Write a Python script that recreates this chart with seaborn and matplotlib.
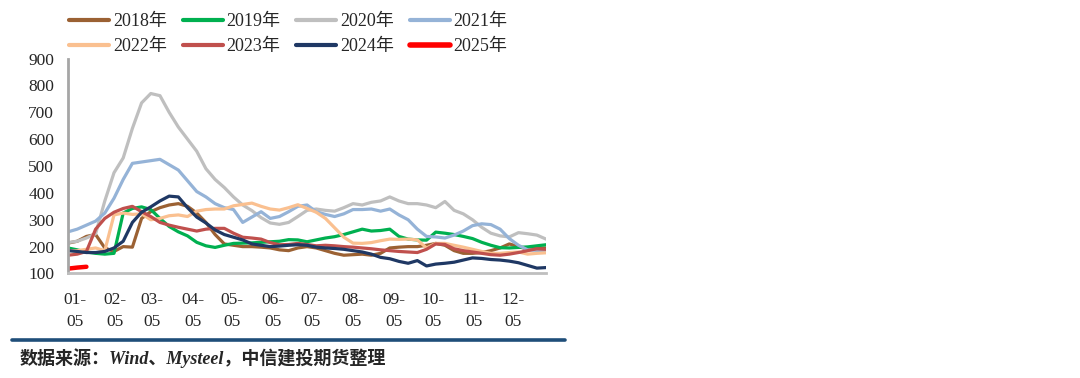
import pandas as pd
import matplotlib.pyplot as plt
from matplotlib.lines import Line2D
import seaborn as sns
import numpy as np

# 数据（周度，第0周~第52周）
weeks = list(range(53))
month_labels = ['01-\n05', '02-\n05', '03-\n05', '04-\n05', '05-\n05', '06-\n05',
                '07-\n05', '08-\n05', '09-\n05', '10-\n05', '11-\n05', '12-\n05']
years = ['2018年', '2019年', '2020年', '2021年', '2022年', '2023年', '2024年', '2025年']

y2018 = [213, 220, 238, 245, 195, 182, 200, 198, 305, 330, 345, 355, 360, 350, 325, 290,
         245, 210, 205, 200, 200, 198, 195, 188, 185, 195, 200, 195, 185, 175, 168, 170,
         172, 168, 175, 195, 198, 200, 200, 205, 212, 205, 185, 175, 175, 178, 185, 195,
         210, 200, 190, 195, 195]
y2019 = [195, 188, 180, 175, 172, 175, 325, 342, 348, 338, 305, 275, 255, 240, 216, 203,
         197, 205, 212, 213, 214, 216, 218, 220, 226, 225, 218, 225, 232, 237, 245, 255,
         265, 258, 260, 265, 238, 228, 225, 224, 254, 250, 245, 238, 230, 216, 205, 196,
         195, 197, 199, 203, 207]
y2020 = [215, 220, 232, 248, 370, 475, 530, 640, 735, 770, 762, 700, 645, 600, 555, 490,
         450, 420, 385, 355, 334, 308, 288, 283, 290, 312, 335, 340, 335, 332, 345, 360,
         355, 365, 370, 385, 370, 360, 360, 355, 345, 368, 335, 322, 300, 272, 250, 240,
         236, 252, 248, 243, 228]
y2021 = [255, 265, 280, 295, 325, 380, 450, 510, 515, 520, 525, 505, 485, 445, 405, 385,
         360, 345, 338, 290, 310, 330, 305, 312, 330, 350, 355, 330, 320, 312, 322, 338,
         338, 340, 332, 340, 318, 300, 265, 238, 236, 232, 243, 258, 278, 285, 282, 265,
         230, 205, 188, 186, 185]
y2022 = [185, 185, 190, 195, 185, 318, 325, 320, 322, 300, 305, 315, 318, 312, 332, 338,
         340, 340, 352, 357, 362, 350, 340, 336, 345, 356, 342, 328, 305, 270, 235, 213,
         212, 215, 222, 228, 227, 228, 225, 195, 212, 212, 205, 198, 190, 182, 175, 175,
         178, 180, 172, 175, 177]
y2023 = [168, 172, 182, 265, 305, 328, 342, 350, 330, 312, 290, 280, 272, 265, 258, 265,
         268, 268, 250, 235, 232, 228, 215, 207, 208, 212, 208, 203, 205, 203, 200, 198,
         195, 192, 188, 185, 182, 180, 178, 190, 210, 208, 192, 185, 180, 175, 170, 168,
         172, 178, 185, 192, 190]
y2024 = [185, 182, 178, 178, 182, 195, 220, 290, 328, 348, 370, 388, 385, 345, 310, 288,
         262, 245, 235, 225, 210, 205, 200, 202, 205, 207, 205, 198, 195, 193, 190, 185,
         180, 172, 160, 155, 145, 138, 148, 128, 135, 138, 142, 150, 158, 156, 152, 150,
         146, 140, 130, 120, 122]
y2025 = [118, 122, 125]

series = [y2018, y2019, y2020, y2021, y2022, y2023, y2024, y2025]
colors = ['#9B6133', '#00B050', '#BFBFBF', '#95B3D7', '#FAC090', '#C0504D', '#1F3864', '#FF0000']

sns.set_style("white")
plt.rcParams['font.family'] = ['Liberation Serif', 'Noto Sans CJK SC', 'DejaVu Sans']
plt.rcParams['font.size'] = 12

fig = plt.figure(figsize=(10.8, 3.78), dpi=100)
ax = fig.add_axes([0.063, 0.2765, 0.4426, 0.5685])

for name, vals, c in zip(years, series, colors):
    lw = 3.2 if name == '2025年' else 2.3
    sns.lineplot(x=weeks[:len(vals)], y=vals, color=c, linewidth=lw, label=name, ax=ax,
                 legend=False)

# x轴刻度：每月5日
tick_pos = [pd.Timestamp(2023, m, 5).dayofyear / 7 for m in range(1, 13)]
ax.set_xticks(tick_pos)
ax.set_xticklabels(month_labels, multialignment='center', linespacing=1.55)
ax.set_xlim(0, 52)
ax.set_ylim(100, 900)
ax.set_yticks(range(100, 1000, 100))
ax.tick_params(axis='x', length=0, pad=13, labelsize=12.5)
ax.tick_params(axis='y', length=4, width=1.5, color='#A6A6A6', direction='out', pad=6,
               labelsize=12.5)
ax.set_xlabel('')
ax.set_ylabel('')

for s in ['top', 'right']:
    ax.spines[s].set_visible(False)
ax.spines['left'].set_color('#A6A6A6')
ax.spines['left'].set_linewidth(2)
ax.spines['bottom'].set_color('#BFBFBF')
ax.spines['bottom'].set_linewidth(2)

# 图例（按行排列：matplotlib 按列填充，所以重新排序）
handles = [Line2D([0], [0], color=c, lw=(4 if n == '2025年' else 3)) for n, c in zip(years, colors)]
order = [0, 4, 1, 5, 2, 6, 3, 7]
fig.legend([handles[i] for i in order], [years[i] for i in order], loc='center',
           bbox_to_anchor=(0.267, 0.91), ncol=4, frameon=False, fontsize=13,
           handlelength=2.2, handletextpad=0.2, columnspacing=0.9, labelspacing=0.45)

# 底部分隔线与来源
fig.add_artist(Line2D([0.011, 0.523], [0.1005, 0.1005], color='#1F4E79', lw=2.6,
                      transform=fig.transFigure))
fig.text(0.018, 0.052, '数据来源：Wind、Mysteel，中信建投期货整理', fontsize=13,
         style='italic', weight='bold', va='center', ha='left')

plt.savefig('out.png', dpi=100)
